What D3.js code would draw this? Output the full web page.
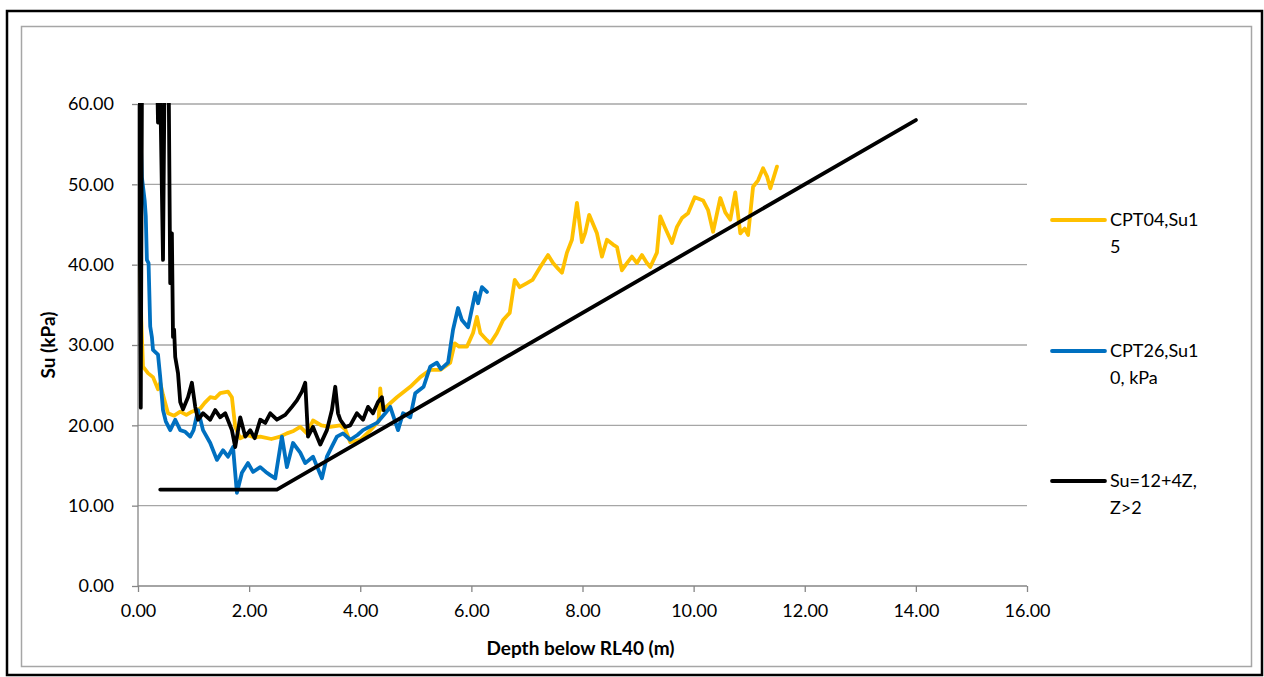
<!DOCTYPE html>
<html><head><meta charset="utf-8">
<script src="https://cdn.jsdelivr.net/npm/d3@7"></script>
<style>body{margin:0;background:#fff;} svg{display:block;}</style>
</head><body>
<svg id="c" width="1264" height="677"></svg>
<script>
// ---- data ----
const xTicks = [0,2,4,6,8,10,12,14,16];
const yTicks = [0,10,20,30,40,50,60];
const seriesNames = ["CPT04,Su15", "CPT26,Su10, kPa", "Su=12+4Z, Z>2"];
const legendLines = [["CPT04,Su1","5"],["CPT26,Su1","0, kPa"],["Su=12+4Z,","Z>2"]];
const cpt04 = [[0.00,52],[0.03,42],[0.06,33],[0.09,27.3],[0.18,26.5],[0.27,26],[0.36,24.5],[0.40,25.3],[0.45,23.8],[0.54,21.5],[0.65,21.2],[0.76,21.7],[0.87,21.3],[0.97,21.7],[1.12,22.1],[1.2,22.8],[1.3,23.5],[1.39,23.4],[1.48,24],[1.62,24.2],[1.69,23.5],[1.75,19.8],[1.84,18.4],[1.96,18.8],[2.1,18.5],[2.2,18.6],[2.4,18.3],[2.56,18.6],[2.68,19],[2.8,19.3],[2.92,19.8],[3.04,19.0],[3.15,20.6],[3.3,20.0],[3.46,19.8],[3.64,20],[3.73,19.5],[3.82,17.9],[4.0,18.2],[4.2,19.5],[4.33,20.5],[4.36,24.6],[4.4,21.9],[4.5,22.5],[4.66,23.5],[4.9,24.8],[5.08,26],[5.26,26.9],[5.44,26.9],[5.62,27.8],[5.7,30.2],[5.78,29.8],[5.92,29.8],[6.03,31.5],[6.1,33.5],[6.16,31.5],[6.28,30.6],[6.34,30.2],[6.46,31.5],[6.57,33.1],[6.69,34],[6.78,38.1],[6.87,37.2],[7.0,37.7],[7.1,38.1],[7.24,39.7],[7.38,41.2],[7.47,40.2],[7.56,39.5],[7.63,39],[7.72,41.5],[7.81,43.1],[7.9,47.7],[7.99,42.8],[8.05,44],[8.12,46.2],[8.26,43.9],[8.35,41],[8.44,43.1],[8.55,42.5],[8.62,42.2],[8.71,39.3],[8.8,40.2],[8.89,41],[8.98,40.2],[9.07,41.2],[9.15,40.3],[9.22,39.7],[9.34,41.5],[9.4,46],[9.48,44.7],[9.61,42.7],[9.7,44.7],[9.79,45.8],[9.9,46.4],[10.02,48.4],[10.17,48.0],[10.26,46.8],[10.35,44.1],[10.48,48.3],[10.57,46.5],[10.66,45.6],[10.75,49.0],[10.84,43.9],[10.92,44.5],[10.98,43.7],[11.07,49.7],[11.16,50.5],[11.25,52],[11.32,51],[11.38,49.5],[11.5,52.2]];
const cpt26 = [[0.02,62],[0.07,50.9],[0.12,48],[0.14,46],[0.16,40.6],[0.19,40.2],[0.22,32.3],[0.25,31],[0.27,29.4],[0.36,28.8],[0.4,26],[0.45,21.9],[0.5,20.5],[0.58,19.4],[0.67,20.7],[0.76,19.4],[0.85,19.2],[0.94,18.6],[1.0,19.4],[1.08,21.9],[1.17,19.4],[1.3,17.8],[1.42,15.7],[1.53,16.9],[1.62,16.1],[1.71,17.3],[1.78,11.6],[1.87,14.1],[1.98,15.3],[2.07,14.2],[2.2,14.8],[2.3,14.2],[2.38,13.8],[2.47,13.4],[2.59,18.6],[2.68,14.8],[2.79,17.8],[2.92,16.6],[3.01,15.3],[3.15,16.1],[3.31,13.4],[3.4,16.1],[3.5,17.5],[3.58,18.6],[3.69,19],[3.82,18.2],[3.95,18.8],[4.05,19.4],[4.3,20.3],[4.45,21.5],[4.54,22.3],[4.68,19.4],[4.77,21.5],[4.9,21],[4.99,24],[5.14,24.8],[5.26,27.3],[5.38,27.8],[5.45,27],[5.58,27.8],[5.67,31.9],[5.76,34.6],[5.83,33.1],[5.94,32.2],[6.07,36.5],[6.12,35.2],[6.19,37.2],[6.28,36.6]];
const cptBlack = [[0.0,80],[0.05,22.2],[0.08,80],[0.3,80],[0.36,57.7],[0.4,62],[0.45,40.6],[0.48,65],[0.55,65],[0.58,37.7],[0.61,43.9],[0.63,31],[0.65,31.9],[0.67,28.5],[0.72,26.5],[0.76,22.9],[0.81,22],[0.9,23.5],[0.97,25.3],[1.03,22.3],[1.08,20.7],[1.17,21.5],[1.3,20.7],[1.39,21.9],[1.48,21],[1.57,21.5],[1.69,19.4],[1.75,17.3],[1.84,21],[1.93,18.6],[2.02,19.4],[2.1,18.4],[2.2,20.7],[2.29,20.3],[2.38,21.5],[2.5,20.7],[2.65,21.3],[2.77,22.3],[2.86,23.1],[2.95,24.2],[3.01,25.3],[3.06,18.6],[3.15,19.8],[3.28,17.6],[3.4,19.4],[3.49,21.9],[3.55,24.8],[3.6,21.5],[3.64,20.7],[3.73,19.8],[3.82,20],[3.94,21.5],[4.05,20.7],[4.14,22.3],[4.23,21.5],[4.32,22.9],[4.39,23.5],[4.42,21.9]];
const suLine = [[0.4,12],[2.5,12],[14,58]];
const colors = ["#FFC000","#0070C0","#000000"];

// ---- chart ----
const svg = d3.select("#c");
const F = "Lato, 'Open Sans', sans-serif";
const L = 138, R = 1027, T = 104, B = 586;
const x = d3.scaleLinear().domain([0,16]).range([L,R]);
const y = d3.scaleLinear().domain([0,60]).range([B,T]);

svg.append("rect").attr("x",7).attr("y",11).attr("width",1255).attr("height",664)
  .attr("fill","#fff").attr("stroke","#000").attr("stroke-width",2.5);
svg.append("rect").attr("x",21.5).attr("y",26.5).attr("width",1230).attr("height",640)
  .attr("fill","none").attr("stroke","#A6A6A6").attr("stroke-width",1.5);

// gridlines
svg.append("g").selectAll("line").data(yTicks.filter(d=>d>0)).join("line")
  .attr("x1",L).attr("x2",R).attr("y1",d=>y(d)).attr("y2",d=>y(d))
  .attr("stroke","#A6A6A6").attr("stroke-width",1.3);

// axes
const xa = svg.append("g").attr("transform",`translate(0,${B})`)
  .call(d3.axisBottom(x).tickValues(xTicks).tickFormat(d3.format(".2f")).tickSize(6).tickPadding(12));
const ya = svg.append("g").attr("transform",`translate(${L},0)`)
  .call(d3.axisLeft(y).tickValues(yTicks).tickFormat(d3.format(".2f")).tickSize(6).tickPadding(18));
[xa,ya].forEach(a=>{
  a.select(".domain").attr("stroke","#868686").attr("stroke-width",1.3);
  a.selectAll(".tick line").attr("stroke","#868686").attr("stroke-width",1.3);
  a.selectAll("text").attr("font-family",F).attr("font-size",18).attr("fill","#000");
});
ya.select(".domain").attr("d",`M0,${B}V${T}`);
xa.select(".domain").attr("d",`M${L},0H${R}`);

// titles
svg.append("text").attr("x",(L+R)/2-2).attr("y",655).attr("text-anchor","middle")
  .attr("font-family",F).attr("font-weight","bold").attr("font-size",19).text("Depth below RL40 (m)");
svg.append("text").attr("transform",`translate(55,${(T+B)/2}) rotate(-90)`).attr("text-anchor","middle")
  .attr("font-family",F).attr("font-weight","bold").attr("font-size",19).text("Su (kPa)");

// lines
svg.append("clipPath").attr("id","pc").append("rect").attr("x",L).attr("y",T-1).attr("width",R-L).attr("height",B-T+1);
const line = d3.line().x(d=>x(d[0])).y(d=>y(d[1]));
const g = svg.append("g").attr("clip-path","url(#pc)");
const drawn = [[cpt04,colors[0]],[cpt26,colors[1]],[cptBlack,colors[2]],[suLine,colors[2]]];
drawn.forEach(([data,c])=>{
  g.append("path").attr("d",line(data)).attr("fill","none").attr("stroke",c)
    .attr("stroke-width",3.8).attr("stroke-linejoin","round").attr("stroke-linecap","round");
});

// legend
const legY = [220,351,481];
legendLines.forEach((lines,i)=>{
  svg.append("line").attr("x1",1052).attr("x2",1105).attr("y1",legY[i]).attr("y2",legY[i])
    .attr("stroke",colors[i]).attr("stroke-width",3.8).attr("stroke-linecap","round");
  lines.forEach((t,j)=>{
    svg.append("text").attr("x",1110).attr("y",legY[i]+j*27).attr("dy","0.35em")
      .attr("font-family",F).attr("font-size",18).attr("fill","#000").text(t);
  });
});
</script>
</body></html>
